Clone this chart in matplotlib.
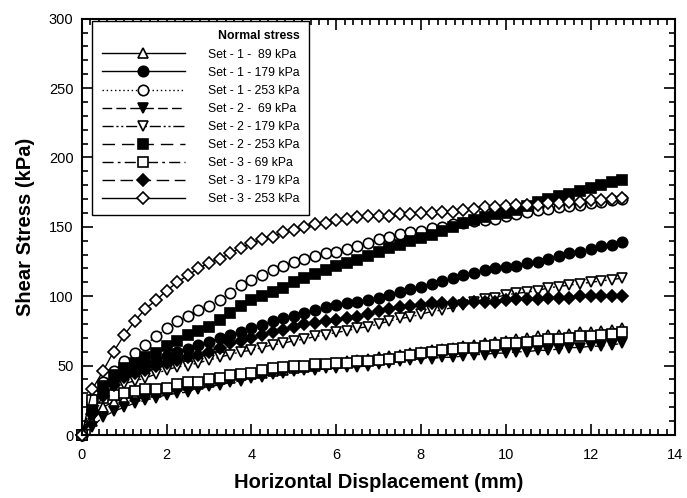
import numpy as np
import matplotlib
matplotlib.use('Agg')
import matplotlib.pyplot as plt
from matplotlib.ticker import MultipleLocator

plt.rcParams['font.family'] = ['Liberation Sans', 'DejaVu Sans']

# horizontal displacement (mm), shared by all tests
disp = [0, 0.25, 0.5, 0.75, 1, 1.25, 1.5, 1.75, 2, 2.25, 2.5, 2.75, 3, 3.25,
        3.5, 3.75, 4, 4.25, 4.5, 4.75, 5, 5.25, 5.5, 5.75, 6, 6.25, 6.5, 6.75,
        7, 7.25, 7.5, 7.75, 8, 8.25, 8.5, 8.75, 9, 9.25, 9.5, 9.75, 10, 10.25,
        10.5, 10.75, 11, 11.25, 11.5, 11.75, 12, 12.25, 12.5, 12.75]

# shear stress (kPa)
set1_89 = [0, 10, 20, 24, 26, 28, 30, 31, 33, 35, 36, 37, 38, 40, 41, 43, 44,
           45, 46, 47, 48, 49, 50, 51, 52, 53, 54, 55, 56, 57, 58, 59, 60, 61,
           62, 63, 64, 65, 66, 67, 68, 69, 70, 71, 72, 72, 73, 74, 74, 75, 76, 77]
set1_179 = [0, 18, 33, 40, 45, 48, 51, 54, 57, 60, 62, 65, 67, 70, 72, 74, 77,
            79, 82, 84, 86, 88, 90, 92, 94, 95, 96, 97, 99, 101, 103, 105, 107,
            109, 111, 113, 115, 117, 119, 120, 121, 122, 124, 125, 127, 129, 131,
            132, 134, 136, 137, 139]
set1_253 = [0, 26, 38, 46, 53, 59, 65, 71, 77, 82, 86, 90, 93, 97, 102, 108,
            112, 115, 119, 122, 125, 127, 129, 131, 132, 134, 136, 138, 141, 143,
            145, 146, 147, 149, 150, 152, 153, 154, 155, 156, 158, 159, 161, 162,
            163, 164, 165, 166, 167, 168, 169, 170]
set2_69 = [0, 6, 13, 17, 20, 23, 25, 27, 29, 30, 31, 33, 35, 36, 38, 39, 41, 42,
           44, 45, 46, 47, 47, 48, 48, 49, 49, 50, 51, 52, 53, 54, 55, 55, 56, 56,
           57, 58, 58, 59, 59, 60, 60, 61, 61, 62, 63, 63, 64, 64, 65, 66]
set2_179 = [0, 12, 28, 34, 37, 39, 41, 44, 47, 49, 50, 52, 54, 56, 58, 60, 61,
            63, 65, 66, 68, 69, 71, 72, 74, 75, 77, 78, 80, 82, 84, 85, 87, 89,
            90, 92, 94, 96, 98, 99, 101, 102, 103, 104, 106, 107, 108, 109, 110,
            111, 112, 113]
set2_253 = [0, 20, 35, 43, 48, 52, 56, 59, 64, 68, 72, 75, 78, 83, 88, 93, 97,
            100, 103, 106, 110, 113, 116, 119, 122, 124, 126, 129, 132, 135, 137,
            140, 142, 144, 147, 150, 153, 155, 157, 159, 160, 162, 165, 168, 170,
            172, 174, 176, 178, 180, 182, 184]
set3_69 = [0, 25, 27, 29, 30, 32, 33, 33, 34, 37, 38, 38, 40, 41, 43, 44, 45,
           47, 48, 49, 50, 50, 51, 51, 52, 52, 53, 53, 54, 55, 56, 58, 59, 60, 61,
           62, 63, 63, 64, 65, 66, 66, 67, 68, 69, 69, 70, 71, 71, 72, 73, 74]
set3_179 = [0, 15, 28, 36, 42, 45, 47, 50, 52, 54, 56, 58, 60, 63, 66, 68, 70,
            72, 74, 76, 78, 80, 81, 82, 83, 84, 85, 87, 89, 91, 92, 93, 94, 95,
            95, 95, 95, 96, 96, 96, 97, 98, 98, 98, 99, 99, 99, 100, 100, 100,
            100, 100]
set3_253 = [0, 33, 46, 60, 72, 82, 91, 97, 104, 110, 115, 120, 124, 127, 131,
            135, 138, 141, 143, 146, 148, 150, 152, 153, 155, 156, 157, 158, 158,
            158, 159, 159, 160, 160, 161, 161, 162, 163, 164, 164, 165, 166, 166,
            166, 167, 167, 168, 168, 169, 169, 170, 171]

labels = ['Set - 1 -  89 kPa', 'Set - 1 - 179 kPa', 'Set - 1 - 253 kPa',
          'Set - 2 -  69 kPa', 'Set - 2 - 179 kPa', 'Set - 2 - 253 kPa',
          'Set - 3 - 69 kPa', 'Set - 3 - 179 kPa', 'Set - 3 - 253 kPa']

series = [set1_89, set1_179, set1_253, set2_69, set2_179, set2_253,
          set3_69, set3_179, set3_253]

# (marker, filled, dash pattern)
styles = [
    ('^', False, None),
    ('o', True, None),
    ('o', False, (1, 2)),
    ('v', True, (7, 3)),
    ('v', False, (8, 2, 1.5, 2, 1.5, 2)),
    ('s', True, (9, 5)),
    ('s', False, (8, 3, 2, 3)),
    ('D', True, (9, 4)),
    ('D', False, None),
]

fig = plt.figure(figsize=(6.87, 4.98), dpi=100)
ax = fig.add_axes([0.119, 0.1265, 0.864, 0.836])

for y, lab, (mk, filled, dash) in zip(series, labels, styles):
    ms = 6.5 if mk == 'D' else 7.5
    line, = ax.plot(disp, y, color='black', lw=1.0, marker=mk, markersize=ms,
                    markerfacecolor='black' if filled else 'white',
                    markeredgecolor='black', markeredgewidth=1.2,
                    label=lab, clip_on=False)
    if dash is not None:
        line.set_dashes(dash)

ax.set_xlim(0, 14)
ax.set_ylim(0, 300)
ax.xaxis.set_major_locator(MultipleLocator(2))
ax.xaxis.set_minor_locator(MultipleLocator(0.2))
ax.yaxis.set_major_locator(MultipleLocator(50))
ax.yaxis.set_minor_locator(MultipleLocator(10))
ax.tick_params(which='both', direction='in', top=True, right=True,
               labelsize=10.5, width=1.2)
ax.tick_params(which='major', length=8)
ax.tick_params(which='minor', length=4)
ax.tick_params(axis='x', pad=9)
ax.tick_params(axis='y', pad=6)
for sp in ax.spines.values():
    sp.set_linewidth(1.5)

ax.set_xlabel('Horizontal Displacement (mm)', fontsize=14.5,
              fontweight='bold', labelpad=8)
ax.set_ylabel('Shear Stress (kPa)', fontsize=14.5, fontweight='bold',
              labelpad=10)

leg = ax.legend(loc='upper left', bbox_to_anchor=(10 / 593, 1 - 2 / 416),
                borderaxespad=0, fontsize=8.8, title='Normal stress',
                title_fontproperties={'size': 8.8, 'weight': 'bold'},
                handlelength=6.8, handletextpad=1.9, labelspacing=0.5,
                fancybox=False, framealpha=1, edgecolor='black',
                alignment='right', borderpad=0.8)
leg.get_frame().set_linewidth(1.0)

plt.savefig('out.png', dpi=100)
